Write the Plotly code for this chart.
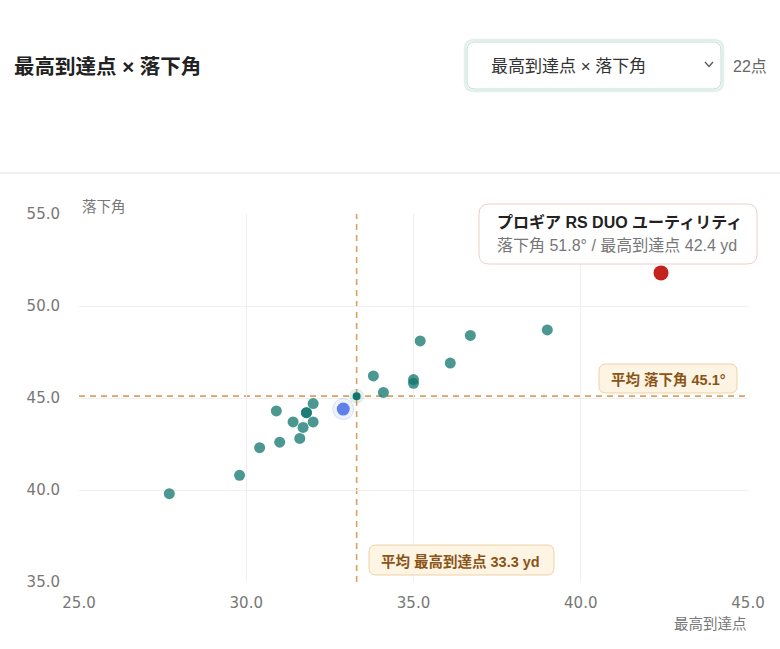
import plotly.graph_objects as go

# ---- data ----
apex_yd = [27.7, 29.8, 30.4, 30.9, 31.0, 31.4, 31.6, 31.7, 31.8, 31.8, 32.0, 32.0,
           33.8, 34.1, 35.0, 35.0, 35.2, 36.1, 36.7, 39.0]
land_deg = [39.8, 40.8, 42.3, 44.3, 42.6, 43.7, 42.8, 43.4, 44.2, 44.2, 43.7, 44.7,
            46.2, 45.3, 46.0, 45.8, 48.1, 46.9, 48.4, 48.7]
sel_apex = [32.9]
sel_land = [44.4]
hl_name = "プロギア RS DUO ユーティリティ"
hl_apex = [42.4]
hl_land = [51.8]
mean_apex = 33.3
mean_land = 45.1
x_ticks = [25.0, 30.0, 35.0, 40.0, 45.0]
y_ticks = [35.0, 40.0, 45.0, 50.0, 55.0]

W, H = 780, 649
L, R, T, B = 79, 748, 214, 582
FONT = "Liberation Sans, Noto Sans CJK JP"
TICKFONT = "DejaVu Sans"

def px(x):
    return (x - L) / (R - L)

def py(y):
    return (B - y) / (B - T)

def rrect(x0, y0, x1, y1, r):
    a0, a1 = px(x0), px(x1)
    b0, b1 = py(y0), py(y1)
    rx = r / (R - L)
    ry = r / (B - T)
    return (f"M {a0+rx},{b0} L {a1-rx},{b0} Q {a1},{b0} {a1},{b0-ry} "
            f"L {a1},{b1+ry} Q {a1},{b1} {a1-rx},{b1} L {a0+rx},{b1} "
            f"Q {a0},{b1} {a0},{b1+ry} L {a0},{b0-ry} Q {a0},{b0} {a0+rx},{b0} Z")

fig = go.Figure()

teal = "#0f766e"
fig.add_trace(go.Scatter(x=apex_yd, y=land_deg, mode="markers",
                         marker=dict(size=11, color=teal, opacity=0.75, line=dict(width=0)),
                         hoverinfo="skip", showlegend=False))
fig.add_trace(go.Scatter(x=[mean_apex], y=[mean_land], mode="markers",
                         marker=dict(size=15, color="rgba(15,118,110,0.12)", line=dict(width=0)),
                         hoverinfo="skip", showlegend=False))
fig.add_trace(go.Scatter(x=[mean_apex], y=[mean_land], mode="markers",
                         marker=dict(size=8, color=teal, line=dict(width=0)),
                         hoverinfo="skip", showlegend=False))
fig.add_trace(go.Scatter(x=sel_apex, y=sel_land, mode="markers",
                         marker=dict(size=21, color="rgba(98,126,234,0.10)",
                                     line=dict(width=1, color="rgba(98,126,234,0.22)")),
                         hoverinfo="skip", showlegend=False))
fig.add_trace(go.Scatter(x=sel_apex, y=sel_land, mode="markers",
                         marker=dict(size=13, color="#5f7fea", line=dict(width=0)),
                         hoverinfo="skip", showlegend=False))
fig.add_trace(go.Scatter(x=hl_apex, y=hl_land, mode="markers",
                         marker=dict(size=15, color="#c4231d", line=dict(width=0)),
                         hoverinfo="skip", showlegend=False))

shapes = []
dash_col = "#d8a263"
shapes.append(dict(type="line", xref="paper", yref="y", x0=0, x1=1, y0=mean_land, y1=mean_land,
                   line=dict(color=dash_col, width=1.6, dash="6px,5px"), layer="below"))
shapes.append(dict(type="line", xref="x", yref="paper", x0=mean_apex, x1=mean_apex, y0=0, y1=1,
                   line=dict(color=dash_col, width=1.6, dash="6px,5px"), layer="below"))
shapes.append(dict(type="line", xref="paper", yref="paper", x0=px(0), x1=px(W), y0=py(173), y1=py(173),
                   line=dict(color="#e2e2e2", width=1.2)))
shapes.append(dict(type="path", xref="paper", yref="paper", path=rrect(465, 40, 723, 91, 9),
                   line=dict(color="#e2f0eb", width=2.5), fillcolor="rgba(0,0,0,0)"))
shapes.append(dict(type="path", xref="paper", yref="paper", path=rrect(467, 42, 721, 89, 8),
                   line=dict(color="#c2ddd4", width=1), fillcolor="white"))
shapes.append(dict(type="path", xref="paper", yref="paper",
                   path=f"M {px(705)},{py(62)} L {px(709)},{py(66.5)} L {px(713)},{py(62)}",
                   line=dict(color="#555", width=1.2)))
shapes.append(dict(type="path", xref="paper", yref="paper", path=rrect(479, 204, 757, 264, 10),
                   line=dict(color="#f0cccc", width=1), fillcolor="white"))
shapes.append(dict(type="path", xref="paper", yref="paper", path=rrect(599, 364, 737, 393, 7),
                   line=dict(color="#ecd3a6", width=1), fillcolor="#fdf4e4"))
shapes.append(dict(type="path", xref="paper", yref="paper", path=rrect(369, 545, 554, 575, 7),
                   line=dict(color="#ecd3a6", width=1), fillcolor="#fdf4e4"))

ann = []
def text(x, y, s, size, color, xanchor="left", bold=False):
    ann.append(dict(xref="paper", yref="paper", x=px(x), y=py(y), text=f"<b>{s}</b>" if bold else s,
                    showarrow=False, xanchor=xanchor, yanchor="middle",
                    font=dict(family=FONT, size=size, color=color)))

text(12, 66, "最高到達点 × 落下角", 20.5, "#222", bold=True)
text(489, 66, "最高到達点 × 落下角", 17, "#333")
text(731, 66, "22点", 16, "#666")
text(80, 207, "落下角", 14.5, "#777")
text(749, 624, "最高到達点", 14.5, "#777", xanchor="right")
text(495, 222, hl_name, 16, "#222", bold=True)
text(495, 245, f"落下角 {hl_land[0]:.1f}° / 最高到達点 {hl_apex[0]:.1f} yd", 16, "#777")
text(668, 379, f"平均 落下角 {mean_land:.1f}°", 14.5, "#8a5418", xanchor="center", bold=True)
text(461, 561, f"平均 最高到達点 {mean_apex:.1f} yd", 14.5, "#8a5418", xanchor="center", bold=True)

fig.update_layout(
    width=W, height=H,
    margin=dict(l=L, r=W - R, t=T, b=H - B),
    paper_bgcolor="white", plot_bgcolor="white",
    font=dict(family=FONT),
    shapes=shapes, annotations=ann,
    xaxis=dict(range=[25, 45], tickvals=x_ticks, ticktext=[f"{v:.1f}" for v in x_ticks],
               showgrid=True, gridcolor="#efefef", gridwidth=1, zeroline=False, showline=False,
               tickfont=dict(size=15, color="#777", family=TICKFONT), ticks="", ticklabelstandoff=10,
               fixedrange=True),
    yaxis=dict(range=[35, 55], tickvals=y_ticks, ticktext=[f"{v:.1f}" for v in y_ticks],
               showgrid=True, gridcolor="#efefef", gridwidth=1, zeroline=False, showline=False,
               tickfont=dict(size=15, color="#777", family=TICKFONT), ticks="", ticklabelstandoff=18,
               fixedrange=True),
    hovermode=False,
)
fig.write_html("out.html", config={"displayModeBar": False})
